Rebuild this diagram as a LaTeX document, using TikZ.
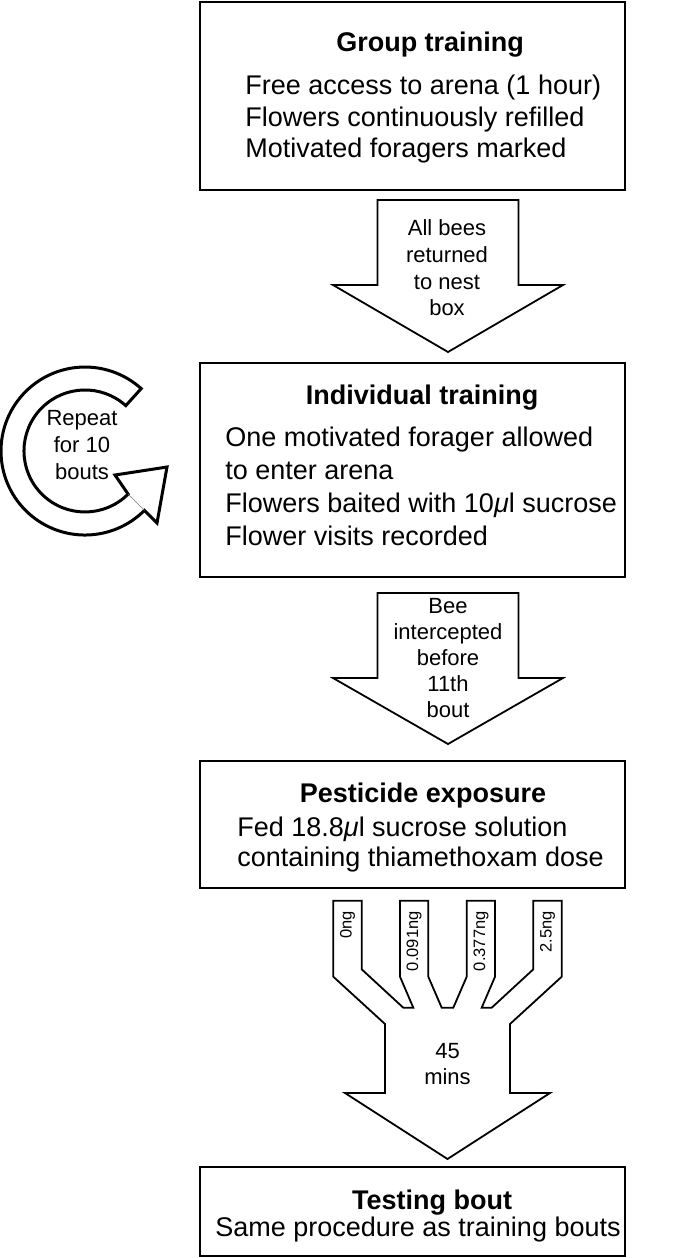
\documentclass[tikz,border=0pt]{standalone}
\usepackage{fontspec}
\setmainfont{Liberation Sans}
\usetikzlibrary{positioning}

\begin{document}
\begin{tikzpicture}
  [
    x=0.5pt, y=-0.5pt,
    Stage/.style={draw=black, line width=1.3pt, fill=white},
    Block/.style={draw=black, line width=0.9pt, line join=miter, fill=white},
    Loop/.style={draw=black, line width=1.5pt, line join=miter, fill=white},
    Title/.style={font=\fontsize{13.5}{16}\selectfont\bfseries, inner sep=0pt, text height=9.7pt, text depth=0pt},
    Body/.style={font=\fontsize{13.5}{16}\selectfont, inner sep=0pt, anchor=west, text height=9.7pt, text depth=0pt},
    Note/.style={font=\fontsize{11}{13.2}\selectfont, align=center, inner sep=0pt},
    Dose/.style={font=\fontsize{8.25}{10}\selectfont, rotate=90, anchor=east, inner sep=0pt}
  ]
  \useasboundingbox (0,0) rectangle (697,1258);

  % Boxes
  \node[Stage, minimum width=212.5pt, minimum height=94pt] (group) at (412.5,96) {};
  \node[Stage, minimum width=212.5pt, minimum height=107pt] (indiv) at (412.5,470) {};
  \node[Stage, minimum width=212.5pt, minimum height=63.5pt] (pest) at (412.5,824.5) {};
  \node[Stage, minimum width=212.5pt, minimum height=44.5pt] (test) at (412.5,1211.5) {};

  % Box texts
  \node[Title] (group-t) at (430,42) {Group training};
  \foreach \txt [count=\i from 0] in {Free access to arena (1 hour), Flowers continuously refilled, Motivated foragers marked}
    \node[Body] (group-\i) at (245,85+31.5*\i) {\txt};

  \node[Title] (indiv-t) at (422,395) {Individual training};
  \foreach \txt [count=\i from 0] in {One motivated forager allowed, to enter arena, Flowers baited with 10{\itshape μ}l sucrose, Flower visits recorded}
    \node[Body] (indiv-\i) at (225,437+33*\i) {\txt};

  \node[Title] (pest-t) at (423,793) {Pesticide exposure};
  \foreach \txt [count=\i from 0] in {Fed 18.8{\itshape μ}l sucrose solution, containing thiamethoxam dose}
    \node[Body] (pest-\i) at (237,827+30*\i) {\txt};

  \node[Title] (test-t) at (432,1200) {Testing bout};
  \node[Body] (test-0) at (215,1227) {Same procedure as training bouts};

  % Block arrows
  \draw[Block] (377.5,200) -- (518.5,200) -- (518.5,285) -- (563,285) -- (448,352)
    -- (333,285) -- (377.5,285) -- cycle;
  \draw[Block] (377.5,593) -- (518.5,593) -- (518.5,678) -- (563,678) -- (448,744)
    -- (333,678) -- (377.5,678) -- cycle;
  \draw[Block] (333.3,900.7) -- (361.7,900.7) -- (361.7,969.3) -- (403.3,1007.7)
    -- (413.3,1007.7) -- (400,976.7) -- (400,900.7) -- (428.3,900.7) -- (428.3,976.7)
    -- (441.7,1007.7) -- (453.3,1007.7) -- (466.7,976.7) -- (466.7,900.7) -- (495,900.7)
    -- (495,976.7) -- (481.7,1007.7) -- (491.7,1007.7) -- (533.3,969.3) -- (533.3,900.7)
    -- (561.7,900.7) -- (561.7,976.7) -- (510,1024) -- (510,1093) -- (550,1093)
    -- (447.5,1159) -- (345,1093) -- (385,1093) -- (385,1024) -- (333.3,976.7) -- cycle;

  % Arrow texts
  \node[Note, font=\fontsize{11}{13.35}\selectfont] (returned) at (447,268) {All bees\\returned\\to nest\\box};
  \node[Note, font=\fontsize{11}{12.9}\selectfont] (intercept) at (448,658) {Bee\\intercepted\\before\\11th\\bout};
  \node[Note] (wait) at (447.5,1064) {45\\mins};
  \node[Dose] (d0) at (347.5,911) {0ng};
  \node[Dose] (d1) at (414,911) {0.091ng};
  \node[Dose] (d2) at (481,911) {0.377ng};
  \node[Dose] (d3) at (547.5,911) {2.5ng};

  % Repeat loop
  \draw[Loop] (141.2,388.6) arc[start angle=312, end angle=45, radius=84] -- (157,523)
    -- (167,467) -- (115,475) -- (128.1,494.1) arc[start angle=45, end angle=312, radius=61] -- cycle;
  \draw[gray, line width=0.3pt] (128.1,494.1) -- (144.4,510.4);
  \node[Note, font=\fontsize{11}{13.5}\selectfont] (repeat) at (82,445) {Repeat\\for 10\\bouts};
\end{tikzpicture}
\end{document}
